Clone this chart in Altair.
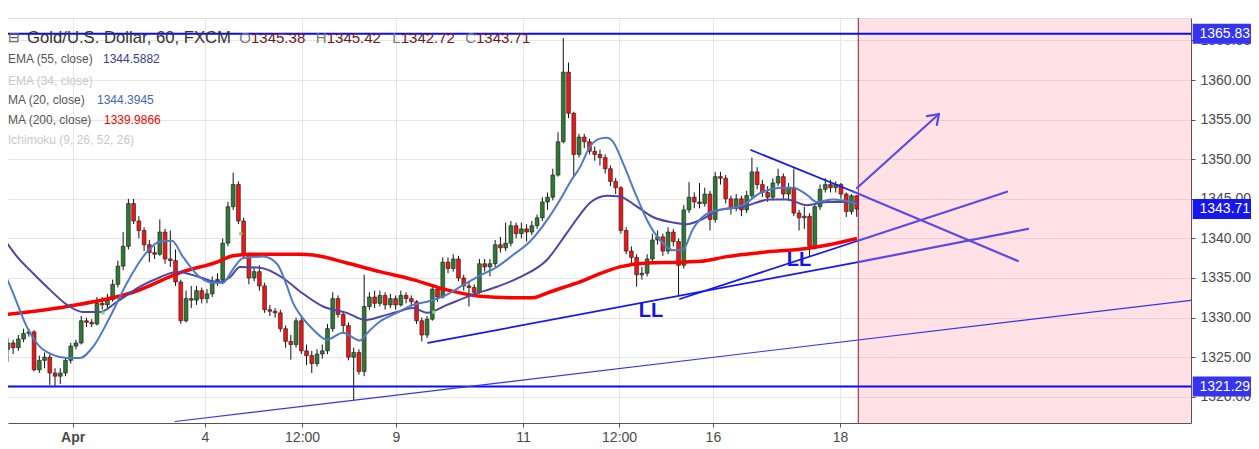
import altair as alt
import pandas as pd

# ---------------- data ----------------
# 2-hour candles, first open then closes / highs / lows
first_open = 1326.6
hours_per_candle = 2
closes = [1326.0, 1326.8, 1326.2, 1327.3, 1328.0, 1328.2, 1323.4, 1324.6, 1325.0, 1323.0,
          1322.6, 1323.0, 1324.6, 1326.4, 1326.8, 1329.6, 1329.4, 1329.2, 1331.8, 1331.6,
          1332.3, 1334.2, 1336.5, 1339.0, 1344.4, 1342.2, 1341.0, 1339.2, 1338.2, 1338.0,
          1340.8, 1337.4, 1337.2, 1334.5, 1329.6, 1332.4, 1332.2, 1333.4, 1332.4, 1333.0,
          1334.6, 1334.8, 1339.4, 1344.0, 1346.8, 1342.2, 1337.8, 1335.0, 1335.8, 1334.0,
          1331.0, 1330.8, 1330.6, 1328.6, 1327.0, 1326.6, 1329.6, 1325.8, 1325.2, 1324.2,
          1325.4, 1325.8, 1328.6, 1332.4, 1330.4, 1329.0, 1325.0, 1325.6, 1323.2, 1331.4,
          1332.6, 1331.8, 1332.8, 1331.6, 1332.4, 1331.6, 1332.8, 1332.4, 1332.0, 1329.6,
          1327.8, 1329.8, 1333.6, 1332.6, 1337.0, 1336.2, 1337.4, 1335.0, 1334.0, 1333.8,
          1333.2, 1336.8, 1336.4, 1336.8, 1339.2, 1338.8, 1339.4, 1341.6, 1340.6, 1341.2,
          1340.8, 1341.6, 1342.6, 1344.6, 1345.2, 1348.0, 1352.2, 1361.0, 1355.8, 1350.6,
          1352.8, 1352.2, 1351.0, 1350.6, 1350.2, 1348.8, 1347.2, 1346.4, 1341.0, 1338.4,
          1337.6, 1335.4, 1335.6, 1337.4, 1339.8, 1340.2, 1338.4, 1340.8, 1339.6, 1336.6,
          1343.6, 1345.2, 1344.6, 1344.4, 1345.6, 1342.4, 1347.8, 1347.6, 1345.0, 1343.8,
          1345.0, 1343.6, 1345.4, 1348.4, 1346.8, 1345.8, 1345.2, 1347.0, 1347.8, 1345.6,
          1346.4, 1343.2, 1342.6, 1342.8, 1339.0, 1344.0, 1346.2, 1346.8, 1346.4, 1346.8,
          1345.6, 1343.4, 1345.38, 1343.71]
highs = [1327.0, 1327.4, 1327.2, 1327.8, 1328.6, 1328.6, 1328.4, 1325.2, 1325.6, 1325.4,
         1323.6, 1323.6, 1325.0, 1326.8, 1327.2, 1330.2, 1330.0, 1329.8, 1332.6, 1332.6,
         1333.0, 1334.8, 1337.2, 1340.8, 1345.0, 1345.0, 1342.8, 1341.4, 1339.8, 1339.0,
         1342.4, 1341.2, 1341.0, 1338.6, 1334.8, 1333.4, 1334.0, 1334.0, 1333.8, 1333.6,
         1335.2, 1335.6, 1340.0, 1344.6, 1348.3, 1347.2, 1342.6, 1338.2, 1336.4, 1336.6,
         1334.4, 1331.6, 1331.2, 1331.0, 1329.0, 1327.8, 1330.0, 1330.0, 1326.6, 1325.8,
         1326.0, 1326.6, 1329.2, 1333.2, 1332.8, 1330.8, 1329.4, 1326.2, 1326.0, 1335.4,
         1333.2, 1333.4, 1333.4, 1333.2, 1333.0, 1332.8, 1333.4, 1333.2, 1332.8, 1332.2,
         1330.0, 1330.2, 1334.2, 1334.0, 1337.6, 1337.6, 1338.0, 1337.8, 1335.4, 1334.6,
         1334.2, 1337.4, 1337.4, 1337.4, 1339.8, 1340.2, 1342.0, 1342.2, 1342.0, 1342.0,
         1341.8, 1342.2, 1343.0, 1345.2, 1345.8, 1348.8, 1353.4, 1365.3, 1362.2, 1356.0,
         1353.2, 1353.2, 1352.6, 1351.6, 1351.2, 1350.6, 1349.2, 1347.6, 1346.6, 1341.4,
         1339.0, 1338.0, 1336.4, 1338.0, 1340.6, 1341.0, 1340.6, 1341.4, 1341.2, 1340.0,
         1344.2, 1347.1, 1345.8, 1347.0, 1346.4, 1346.0, 1348.4, 1348.4, 1348.0, 1345.4,
         1345.6, 1345.4, 1346.0, 1350.2, 1349.0, 1347.4, 1346.6, 1347.6, 1348.8, 1348.2,
         1347.0, 1348.8, 1343.6, 1344.0, 1343.2, 1344.4, 1346.8, 1347.6, 1347.4, 1347.2,
         1347.0, 1345.8, 1345.6, 1345.42]
lows = [1325.2, 1324.4, 1325.4, 1325.8, 1326.9, 1327.6, 1323.2, 1323.0, 1323.6, 1321.5,
        1321.4, 1321.6, 1322.6, 1324.2, 1326.0, 1326.6, 1328.8, 1328.8, 1329.0, 1331.0,
        1331.2, 1332.0, 1333.8, 1336.0, 1338.6, 1341.8, 1340.0, 1338.4, 1337.0, 1337.4,
        1337.8, 1336.8, 1336.4, 1334.0, 1329.2, 1329.4, 1331.2, 1331.6, 1331.8, 1331.8,
        1332.6, 1334.0, 1334.2, 1339.0, 1343.6, 1341.8, 1337.4, 1334.2, 1334.6, 1333.4,
        1330.6, 1330.2, 1330.0, 1328.2, 1326.2, 1324.7, 1326.2, 1325.4, 1324.0, 1323.0,
        1323.8, 1324.8, 1325.4, 1328.2, 1330.0, 1328.0, 1324.6, 1319.6, 1322.8, 1322.6,
        1331.0, 1331.2, 1331.4, 1331.0, 1331.2, 1331.0, 1331.4, 1331.8, 1331.4, 1329.2,
        1327.0, 1327.4, 1329.6, 1332.0, 1332.4, 1335.6, 1335.8, 1334.6, 1333.4, 1331.4,
        1332.6, 1333.0, 1335.8, 1335.2, 1336.4, 1338.2, 1338.4, 1339.0, 1340.0, 1340.0,
        1339.6, 1340.4, 1341.2, 1342.2, 1343.6, 1344.8, 1347.8, 1352.0, 1355.2, 1347.8,
        1350.2, 1351.4, 1350.6, 1349.8, 1349.2, 1348.2, 1346.6, 1345.6, 1340.6, 1338.0,
        1336.8, 1333.9, 1334.8, 1335.2, 1337.0, 1339.2, 1337.8, 1338.0, 1339.0, 1332.8,
        1336.2, 1343.2, 1343.8, 1343.8, 1344.0, 1341.0, 1342.0, 1346.8, 1344.4, 1343.0,
        1343.4, 1342.8, 1343.2, 1345.0, 1346.2, 1345.2, 1344.6, 1344.8, 1346.6, 1345.0,
        1344.8, 1342.8, 1341.0, 1341.2, 1337.7, 1338.6, 1343.6, 1345.8, 1345.8, 1345.8,
        1345.0, 1342.7, 1343.0, 1342.72]

# moving averages read as (hour, value) points
ma200_t = [0, 25.6, 50.8, 69.8, 82.8, 88.9, 95.4, 114.5, 119.5, 132.4, 145.0, 157.6, 170.6,
           183.2, 195.8, 203.4, 208.8, 214.9, 221.4, 227.9, 236.6, 247.0, 259.5, 267.2, 277.5,
           290.0, 309.2, 317.9, 327.1]
ma200_v = [1330.3, 1331.4, 1333.2, 1335.8, 1337.0, 1337.8, 1338.0, 1338.0, 1337.9, 1336.9,
           1335.8, 1334.8, 1333.5, 1332.7, 1332.5, 1332.5, 1333.1, 1333.8, 1334.5, 1335.4,
           1336.4, 1336.9, 1337.0, 1337.1, 1337.7, 1338.2, 1338.8, 1339.3, 1339.99]
ma20_t = [0, 5.0, 10.3, 15.3, 20.2, 25.6, 30.5, 35.5, 42.0, 48.5, 56.1, 61.1, 65.6, 69.8, 76.3,
          81.3, 85.1, 88.9, 92.7, 100.4, 105.7, 109.5, 111.8, 114.5, 119.5, 124.8, 130.9, 137.4,
          140.0, 145.0, 151.5, 157.6, 163.0, 170.6, 176.7, 183.2, 189.7, 195.8, 202.3, 208.8,
          214.9, 217.6, 221.4, 225.2, 229.0, 231.7, 234.0, 237.8, 243.1, 247.0, 251.9, 256.9,
          260.7, 264.5, 271.0, 283.6, 290.0, 298.9, 302.7, 308.0, 311.8, 317.9, 327.1]
ma20_v = [1337.0, 1333.1, 1328.8, 1326.3, 1325.3, 1324.9, 1324.9, 1326.3, 1330.1, 1334.4,
          1338.3, 1339.6, 1339.7, 1337.7, 1335.1, 1334.4, 1334.4, 1336.1, 1337.5, 1337.7,
          1336.8, 1334.0, 1331.9, 1330.4, 1328.5, 1327.2, 1328.1, 1327.1, 1328.0, 1329.5,
          1330.6, 1331.6, 1332.0, 1332.9, 1334.1, 1335.3, 1336.4, 1337.9, 1339.6, 1342.3,
          1345.5, 1347.1, 1349.0, 1351.6, 1352.6, 1352.7, 1352.2, 1349.5, 1345.2, 1342.3,
          1339.8, 1338.5, 1338.6, 1341.2, 1343.3, 1344.2, 1345.7, 1346.4, 1346.4, 1345.5,
          1344.6, 1344.9, 1344.39]
ema55_t = [0, 6.5, 12.6, 19.1, 25.6, 31.7, 38.2, 44.7, 53.4, 61.1, 67.6, 76.3, 82.8, 87.8,
           91.6, 99.2, 108.0, 114.5, 123.3, 132.4, 139.3, 145.0, 151.5, 157.6, 163.0, 170.6,
           180.5, 189.7, 198.5, 208.8, 216.4, 221.4, 225.2, 231.7, 236.6, 243.1, 249.2, 256.9,
           262.2, 267.2, 274.8, 283.6, 293.9, 300.4, 308.0, 315.6, 327.1]
ema55_v = [1340.7, 1337.7, 1335.6, 1333.5, 1331.6, 1330.7, 1330.7, 1332.0, 1333.9, 1335.1,
           1335.8, 1335.1, 1334.5, 1335.1, 1336.4, 1336.3, 1335.0, 1333.3, 1331.4, 1330.6,
           1329.7, 1330.1, 1330.7, 1331.2, 1330.6, 1331.6, 1332.9, 1333.9, 1335.1, 1337.3,
           1340.7, 1343.0, 1344.5, 1345.4, 1345.3, 1344.0, 1342.7, 1342.0, 1341.8, 1342.3,
           1343.6, 1344.0, 1344.9, 1344.9, 1344.2, 1344.6, 1344.59]

dots_t = [39.3, 91.9, 165.6]
dots_p = [1330.6, 1340.6, 1330.7]

levels = [1365.83, 1321.29]
last_price = 1343.71
future_start_t = 327.6

# drawn trend lines (hour, price) -> (hour, price)
seg_t1 = [66.8, 163.4, 327.5, 259.5, 327.5, 286.6, 325.6, 327.1, 353.8, 357.6]
seg_p1 = [1316.88, 1326.8, 1337.0, 1332.35, 1339.7, 1351.16, 1345.92, 1346.36, 1355.45, 1354.32]
seg_t2 = [454.6, 327.5, 392.4, 327.5, 384.4, 325.6, 388.5, 358.4, 358.4, 358.4]
seg_p2 = [1332.18, 1337.0, 1341.2, 1339.7, 1345.9, 1345.92, 1337.15, 1355.71, 1355.71, 1355.71]
seg_kind = ["thin", "blue", "purple", "blue", "purple", "blue", "purple", "purple", "purple", "purple"]

ann_t = [248.5, 305.0]
ann_p = [1330.83, 1337.27]
ann_text = ["LL", "LL"]

tick_t = [27.7, 78.2, 115.3, 151.1, 199.6, 236.3, 272.1, 320.6]
tick_labels = ["Apr", "4", "12:00", "9", "11", "12:00", "16", "18"]
price_ticks = [1320, 1325, 1330, 1335, 1340, 1345, 1350, 1355, 1360, 1365]

title_text = "Gold/U.S. Dollar, 60, FXCM"
ohlc_letters = ["O", "H", "L", "C"]
ohlc_values = ["1345.38", "1345.42", "1342.72", "1343.71"]
legend_names = ["EMA (55, close)", "EMA (34, close)", "MA (20, close)", "MA (200, close)",
                "Ichimoku (9, 26, 52, 26)"]
legend_values = ["1344.5882", "", "1344.3945", "1339.9866", ""]

# ---------------- layout / style ----------------
W, H = 1183, 405
RIGHT = 60
X_DOMAIN = [3.05, 454.6]
Y_DOMAIN = [1316.69, 1367.83]
FONT = "Liberation Sans"
UP, DOWN = "#2f7a33", "#f01616"

xs = alt.Scale(domain=X_DOMAIN, nice=False, zero=False, padding=0)
ys = alt.Scale(domain=Y_DOMAIN, nice=False, zero=False, padding=0)

opens = [first_open] + closes[:-1]
cdf = pd.DataFrame({
    "t": [hours_per_candle * k + 1 for k in range(len(closes))],
    "o": opens, "h": highs, "l": lows, "c": closes,
})

label_expr = "".join(f"datum.value == {t} ? '{lab}' : " for t, lab in zip(tick_t, tick_labels)) + "''"

x_axis = alt.Axis(values=tick_t, labelExpr=label_expr, title=None, grid=True,
                  gridColor="#e6e6e6", domainColor="#555555", tickColor="#555555",
                  tickSize=4, labelFontSize=14, labelColor="#4a4a4a", labelFont=FONT,
                  labelPadding=3, labelFlush=False, labelOverlap=False,
                  labelFontWeight={"condition": {"test": f"datum.value == {tick_t[0]}", "value": "bold"},
                                   "value": "normal"})
y_axis = alt.Axis(orient="right", values=price_ticks, format=".2f", title=None, grid=True,
                  gridColor="#e6e6e6", domainColor="#555555", tickColor="#555555",
                  tickSize=4, labelFontSize=14, labelColor="#4a4a4a", labelFont=FONT,
                  labelPadding=5, labelFlush=False, labelOverlap=False)


def X(field):
    return alt.X(field, scale=xs, axis=x_axis)


def Y(field):
    return alt.Y(field, scale=ys, axis=y_axis)


one = pd.DataFrame({"d": [0]})

wicks = alt.Chart(cdf).mark_rule(color="#111111", strokeWidth=1, clip=True).encode(
    x=X("t:Q"), y=Y("l:Q"), y2="h:Q")

pink = alt.Chart(pd.DataFrame({"t": [future_start_t]})).mark_rect(
    color="#ff6b81", opacity=0.2).encode(
    x=X("t:Q"), x2=alt.value(W), y=alt.value(0), y2=alt.value(H))

now_line = alt.Chart(pd.DataFrame({"t": [future_start_t]})).mark_rule(
    color="#8b1a2b", strokeWidth=1).encode(
    x=X("t:Q"), y=alt.value(0), y2=alt.value(H))

top_line = alt.Chart(one).mark_rule(color="#dddddd", strokeWidth=1).encode(
    x=alt.value(0), x2=alt.value(W), y=alt.value(0.5))

bodies = alt.Chart(cdf).mark_bar(size=3.8, stroke="#1a1a1a", strokeWidth=0.6,
                                 orient="vertical", clip=True).encode(
    x=X("t:Q"), y=Y("o:Q"), y2="c:Q",
    color=alt.condition("datum.c >= datum.o", alt.value(UP), alt.value(DOWN)))


def ma_layer(ts, vs, color, width):
    df = pd.DataFrame({"t": ts, "v": vs})
    return alt.Chart(df).mark_line(color=color, strokeWidth=width, interpolate="monotone",
                                   clip=True).encode(x=X("t:Q"), y=Y("v:Q"))


ma200 = ma_layer(ma200_t, ma200_v, "#ff0000", 3.5)
ema55 = ma_layer(ema55_t, ema55_v, "#4d45a8", 2)
ma20 = ma_layer(ma20_t, ma20_v, "#4f7bc6", 2)

dots = alt.Chart(pd.DataFrame({"t": dots_t, "p": dots_p})).mark_circle(
    size=14, color="#86d957", opacity=1).encode(x=X("t:Q"), y=Y("p:Q"))

level_lines = alt.Chart(pd.DataFrame({"p": levels})).mark_rule(
    color="#0a0aff", strokeWidth=2).encode(y=Y("p:Q"), x=alt.value(0), x2=alt.value(W))

seg_df = pd.DataFrame({"t1": seg_t1, "p1": seg_p1, "t2": seg_t2, "p2": seg_p2, "kind": seg_kind})
segs = alt.Chart(seg_df).mark_rule(clip=True, strokeCap="round").encode(
    x=X("t1:Q"), x2="t2:Q", y=Y("p1:Q"), y2="p2:Q",
    color=alt.Color("kind:N", scale=alt.Scale(domain=["thin", "blue", "purple"],
                                              range=["#3434f2", "#1616ee", "#5c4ae6"]), legend=None),
    strokeWidth=alt.StrokeWidth("kind:N", scale=alt.Scale(domain=["thin", "blue", "purple"],
                                                         range=[1.2, 2.2, 2.2]), legend=None))

ann = alt.Chart(pd.DataFrame({"t": ann_t, "p": ann_p, "txt": ann_text})).mark_text(
    fontSize=20, fontWeight="bold", color="#1414e6", font=FONT, baseline="middle").encode(
    x=X("t:Q"), y=Y("p:Q"), text="txt:N")

box_df = pd.DataFrame({"p": [levels[0], last_price, levels[1]], "kind": ["lvl", "last", "lvl"]})
boxes = alt.Chart(box_df).mark_rule(strokeWidth=20, strokeCap="butt").encode(
    y=Y("p:Q"), x=alt.value(W + 1.7), x2=alt.value(W + RIGHT),
    color=alt.Color("kind:N", scale=alt.Scale(domain=["lvl", "last"], range=["#0000ff", "#ff0000"]),
                    legend=None))
box_text = alt.Chart(box_df).mark_text(align="left", baseline="middle", color="white",
                                       fontSize=14, font=FONT).encode(
    y=Y("p:Q"), x=alt.value(W + 8.5), text=alt.Text("p:Q", format=".2f"))


def txt(s, x, y, size, color, weight="normal", align="left"):
    return alt.Chart(one).mark_text(text=s, fontSize=size, color=color, fontWeight=weight,
                                    align=align, baseline="middle", font=FONT).encode(
        x=alt.value(x), y=alt.value(y))


texts = [txt("⊟", 6, 20, 14, "#555555", align="center"),
         txt(title_text, 19, 20, 16.7, "#333333")]
for letter, val, xpos in zip(ohlc_letters, ohlc_values, [243, 318.7, 392.7, 468]):
    texts.append(txt(letter, xpos, 20, 15, "#7a7a7a", align="right"))
    texts.append(txt(val, xpos, 20, 15, "#6b1a1a"))

legend_y = [41, 63, 82, 102, 122]
legend_name_col = ["#555555", "#c9c9c9", "#555555", "#555555", "#c9c9c9"]
legend_val_x = [95, 0, 89, 96, 0]
legend_val_col = ["#3a3a9e", "#000000", "#3b6ab4", "#ff0000", "#000000"]
for name, val, yy, nc, vx, vc in zip(legend_names, legend_values, legend_y, legend_name_col,
                                     legend_val_x, legend_val_col):
    texts.append(txt(name, 0, yy, 12, nc))
    if val:
        texts.append(txt(val, vx, yy, 12, vc))

chart = alt.layer(
    wicks, pink, top_line, bodies, ma200, ema55, ma20, dots, now_line, level_lines, segs,
    ann, boxes, box_text, *texts
).properties(
    width=W, height=H,
    padding={"left": 0, "top": 10, "right": RIGHT, "bottom": 22},
    autosize=alt.AutoSizeParams(type="none"),
).configure_view(strokeWidth=0)

chart.save("out.html", embed_options={"renderer": "svg", "actions": False})
